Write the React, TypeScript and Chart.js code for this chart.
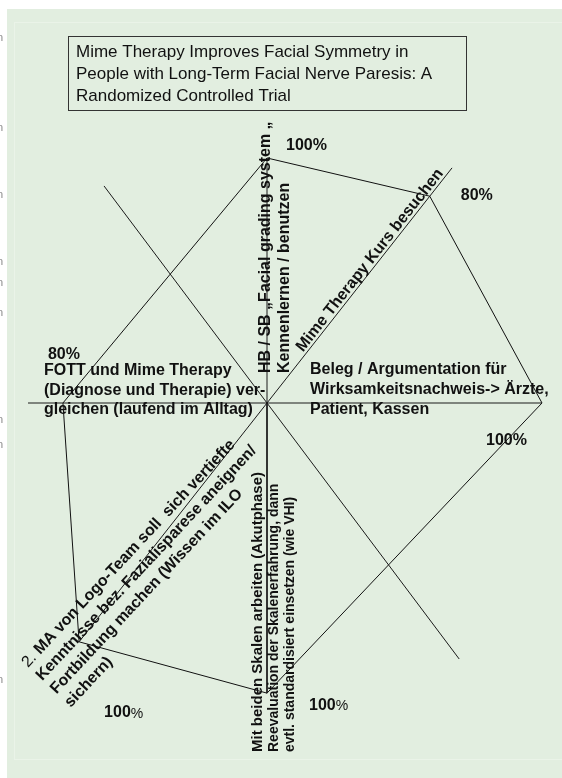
import React, { useEffect, useRef } from "react";
import { Chart, registerables } from "chart.js";

Chart.register(...registerables);

// ---------------- data ----------------
const titleLines = [
  "Mime Therapy Improves Facial Symmetry in",
  "People with Long-Term Facial Nerve Paresis: A",
  "Randomized Controlled Trial",
];

const axisNames: string[][] = [
  ["HB / SB \u201EFacial grading system \u201E", "Kennenlernen / benutzen"],
  ["Mime Therapy Kurs besuchen"],
  ["Beleg / Argumentation f\u00FCr", "Wirksamkeitsnachweis-> \u00C4rzte,", "Patient, Kassen"],
  [
    "Mit beiden Skalen arbeiten (Akutphase)",
    "Reevaluation der Skalenerfahrung, dann",
    "evtl. standardisiert einsetzen (wie VHI)",
  ],
  [
    "2. MA von Logo-Team soll  sich vertiefte",
    "Kenntnisse bez. Fazialisparese aneignen/",
    "Fortbildung machen (Wissen im ILO",
    "sichern)",
  ],
  ["FOTT und Mime Therapy", "(Diagnose und Therapie) ver-", "gleichen (laufend im Alltag)"],
];

const scoreLabels = ["100%", "80%", "100%", "100%", "100%", "80%"];
// direction of each rated axis (degrees, counter-clockwise from the right)
const axisAnglesDeg = [90, 51.8, 0, -90, 231.8, 180];
// where each score sits along its axis, as drawn
const scoreRadii = [89.1, 95.7, 100, 105.5, 110.5, 74.2];

// all spokes of the diagram (the last two carry no rating)
const spokeAnglesDeg = [90, 51.8, 0, -90, 231.8, 180, 126.9, -53.1];
const spokeLengths = [89.1, 108.8, 100, 105.5, 110.5, 86.9, 98.7, 116.4];

// ---------------- layout / style ----------------
const W = 562;
const H = 778;
const X_MIN = -97.09;
const X_MAX = 107.27;
const Y_MIN = -136.36;
const Y_MAX = 146.55;
const FONT = '"Liberation Sans", Arial, sans-serif';
const INK = "#111111";
const marginMarkYs = [38, 128, 195, 262, 283, 313, 420, 445, 680];

const pctOffsets = [
  [19, -12],
  [31, -1],
  [-56, 38],
  [42, 12],
  [25, 71],
  [-15, -48],
];
const pctSplit = [false, false, false, true, true, false];

type NameLayout = {
  dx?: number;
  dy?: number;
  rot: number;
  lh: number;
  baseline: CanvasTextBaseline;
  along?: number;
  perp?: number;
  fonts: string[];
};
const B16 = `bold 16px ${FONT}`;
const nameLayouts: NameLayout[] = [
  { dx: 3, dy: -30, rot: -90, lh: 19, baseline: "alphabetic", fonts: [B16, B16] },
  { along: 62, perp: 3, rot: -51.8, lh: 19, baseline: "alphabetic", fonts: [B16] },
  { dx: 43, dy: -33, rot: 0, lh: 20, baseline: "middle", fonts: [B16, B16, B16] },
  {
    dx: -5,
    dy: 349,
    rot: -90,
    lh: 16,
    baseline: "alphabetic",
    fonts: [`bold 15px ${FONT}`, `bold 14px ${FONT}`, `bold 14px ${FONT}`],
  },
  { dx: -239, dy: 265, rot: -47, lh: 19.5, baseline: "alphabetic", fonts: [B16, B16, B16, B16] },
  { dx: -223, dy: -32, rot: 0, lh: 19.5, baseline: "middle", fonts: [B16, B16, B16] },
];

const rad = (d: number) => (d * Math.PI) / 180;
const polar = (r: number, deg: number) => ({ x: r * Math.cos(rad(deg)), y: r * Math.sin(rad(deg)) });

const bgPlugin = {
  id: "bgPlugin",
  beforeDraw(chart: any) {
    const ctx: CanvasRenderingContext2D = chart.ctx;
    ctx.save();
    ctx.fillStyle = "#ffffff";
    ctx.fillRect(0, 0, chart.width, chart.height);
    ctx.fillStyle = "rgb(226,238,224)";
    ctx.fillRect(7, 9, chart.width - 7, chart.height - 9);
    ctx.strokeStyle = "rgb(234,243,232)";
    ctx.lineWidth = 1;
    ctx.strokeRect(14.5, 22.5, chart.width, 737);
    ctx.fillStyle = "#8a8a8a";
    ctx.font = `11px ${FONT}`;
    ctx.textBaseline = "middle";
    for (const y of marginMarkYs) ctx.fillText("n", -3, y);
    // title box
    ctx.strokeStyle = "#333333";
    ctx.strokeRect(68.5, 36.5, 398, 74);
    ctx.fillStyle = INK;
    ctx.font = `17px ${FONT}`;
    ctx.textAlign = "left";
    titleLines.forEach((t, i) => ctx.fillText(t, 76, 52 + i * 22));
    ctx.restore();
  },
};

const textPlugin = {
  id: "textPlugin",
  afterDatasetsDraw(chart: any) {
    const ctx: CanvasRenderingContext2D = chart.ctx;
    const xs = chart.scales.x;
    const ys = chart.scales.y;
    const cx = xs.getPixelForValue(0);
    const cy = ys.getPixelForValue(0);
    ctx.save();
    ctx.fillStyle = INK;
    ctx.textAlign = "left";

    // score labels
    scoreLabels.forEach((lab, i) => {
      const p = polar(scoreRadii[i], axisAnglesDeg[i]);
      const vx = xs.getPixelForValue(p.x);
      const vy = ys.getPixelForValue(p.y);
      const x = vx + pctOffsets[i][0];
      const y = vy + pctOffsets[i][1];
      ctx.textBaseline = "middle";
      if (pctSplit[i]) {
        const num = lab.replace("%", "");
        ctx.font = B16;
        ctx.fillText(num, x, y);
        const w = ctx.measureText(num).width;
        ctx.font = `14px ${FONT}`;
        ctx.fillText("%", x + w, y + 1);
      } else {
        ctx.font = B16;
        ctx.fillText(lab, x, y);
      }
    });

    // axis names
    axisNames.forEach((lines, i) => {
      const L = nameLayouts[i];
      let sx: number;
      let sy: number;
      if (L.along !== undefined) {
        const a = rad(axisAnglesDeg[i]);
        const dxu = Math.cos(a);
        const dyu = -Math.sin(a);
        const unit = xs.getPixelForValue(1) - xs.getPixelForValue(0);
        sx = cx + (L.along / 2.75) * unit * dxu + (L.perp || 0) * dyu;
        sy = cy + (L.along / 2.75) * unit * dyu - (L.perp || 0) * dxu;
      } else {
        sx = cx + (L.dx || 0);
        sy = cy + (L.dy || 0);
      }
      ctx.save();
      ctx.translate(sx, sy);
      ctx.rotate(rad(L.rot));
      ctx.textBaseline = L.baseline;
      lines.forEach((line, j) => {
        const y = j * L.lh;
        const m = j === 0 ? line.match(/^(\d+\.\s)(.*)$/) : null;
        if (m) {
          ctx.font = `16px ${FONT}`;
          ctx.fillText(m[1], 0, y);
          const w = ctx.measureText(m[1]).width;
          ctx.font = L.fonts[j];
          ctx.fillText(m[2], w, y);
        } else {
          ctx.font = L.fonts[j];
          ctx.fillText(line, 0, y);
        }
      });
      ctx.restore();
    });
    ctx.restore();
  },
};

export default function App() {
  const ref = useRef<HTMLCanvasElement | null>(null);
  useEffect(() => {
    if (!ref.current) return;
    const spokes = spokeAnglesDeg.map((a, i) => {
      const e = polar(spokeLengths[i], a);
      return {
        label: `spoke${i}`,
        data: [{ x: 0, y: 0 }, e],
        showLine: true,
        borderColor: "#1a1a1a",
        borderWidth: 1,
        pointRadius: 0,
        fill: false,
      };
    });
    const poly = axisAnglesDeg.map((a, i) => polar(scoreRadii[i], a));
    poly.push(poly[0]);
    const chart = new Chart(ref.current, {
      type: "scatter",
      data: {
        datasets: [
          ...spokes,
          {
            label: "scores",
            data: poly,
            showLine: true,
            borderColor: "#111111",
            borderWidth: 1,
            pointRadius: 0,
            fill: false,
            tension: 0,
          },
        ] as any,
      },
      options: {
        responsive: false,
        animation: false,
        layout: { padding: 0, autoPadding: false } as any,
        plugins: { legend: { display: false }, tooltip: { enabled: false }, title: { display: false } },
        scales: {
          x: { type: "linear", display: false, min: X_MIN, max: X_MAX },
          y: { type: "linear", display: false, min: Y_MIN, max: Y_MAX },
        },
      },
      plugins: [bgPlugin, textPlugin],
    });
    return () => chart.destroy();
  }, []);
  return (
    <div style={{ position: "absolute", left: 0, top: 0, width: W, height: H, overflow: "hidden" }}>
      <canvas ref={ref} width={W} height={H} style={{ display: "block" }} />
    </div>
  );
}
